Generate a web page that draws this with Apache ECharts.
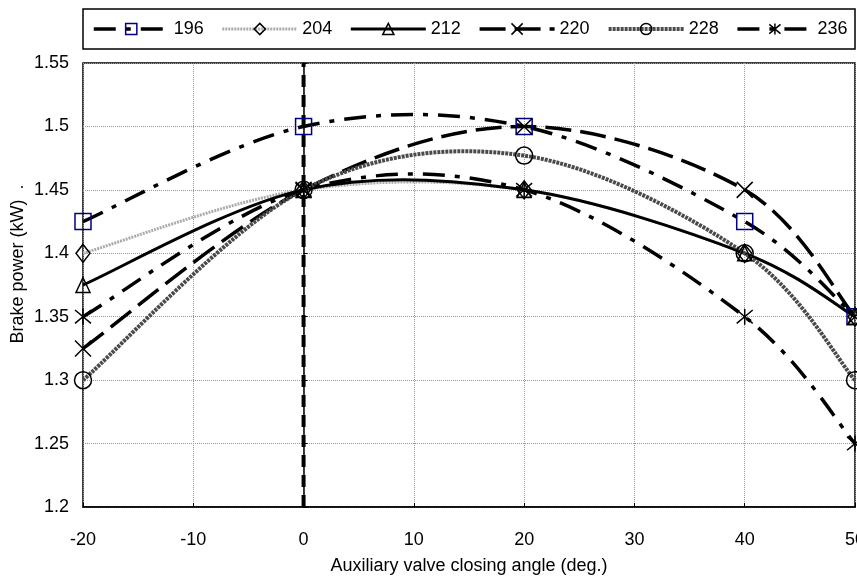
<!DOCTYPE html>
<html>
<head>
<meta charset="utf-8">
<script src="https://cdn.jsdelivr.net/npm/echarts@6/dist/echarts.min.js"></script>
<style>
html,body{margin:0;padding:0;background:#fff;}
#c{width:857px;height:577px;}
</style>
</head>
<body>
<div id="c"></div>
<script>
const angles = [-20, 0, 20, 40, 50];
const seriesNames = ['196', '204', '212', '220', '228', '236'];
const s196 = [1.425, 1.5, 1.5, 1.425, 1.35];
const s204 = [1.4, 1.45, 1.45, 1.4, 1.35];
const s212 = [1.375, 1.45, 1.45, 1.4, 1.35];
const s220 = [1.325, 1.45, 1.5, 1.45, 1.35];
const s228 = [1.3, 1.45, 1.477, 1.4, 1.3];
const s236 = [1.35, 1.45, 1.45, 1.35, 1.25];
const refLineX = [0, 0];
const refLineY = [1.2, 1.55];
const xTicks = [-20, -10, 0, 10, 20, 30, 40, 50];
const yTicks = [1.2, 1.25, 1.3, 1.35, 1.4, 1.45, 1.5, 1.55];

const FONT = '"Liberation Sans", Arial, sans-serif';
const pair = (ys) => angles.map((x, i) => [x, ys[i]]);

const X_PATH = 'path://M0,0L10,10M10,0L0,10';
const AST_PATH = 'path://M0,0L10,10M10,0L0,10M5,-1L5,11';

const defs = [
  { name: seriesNames[0], ys: s196, line: { color: '#000', width: 3.5, type: [22, 10, 5, 10] }, symbol: 'rect', size: 16, border: '#000080' },
  { name: seriesNames[1], ys: s204, line: { color: '#ababab', width: 3, type: [2, 1] }, symbol: 'diamond', size: [14, 18] },
  { name: seriesNames[2], ys: s212, line: { color: '#000', width: 3, type: 'solid' }, symbol: 'triangle', size: [14, 15] },
  { name: seriesNames[3], ys: s220, line: { color: '#000', width: 3.5, type: [26, 9] }, symbol: X_PATH, size: 16 },
  { name: seriesNames[4], ys: s228, line: { color: '#4a4a4a', width: 4, type: [3, 1] }, symbol: 'circle', size: 17 },
  { name: seriesNames[5], ys: s236, line: { color: '#000', width: 3.5, type: [22, 10, 5, 10] }, symbol: AST_PATH, size: 16 }
];

// Excel-like smoothed curve through the data points (Catmull-Rom to Bezier), via the axis scales
function curveSeries(d) {
  return {
    type: 'custom',
    coordinateSystem: 'cartesian2d',
    data: [[angles[0], d.ys[0]]],
    silent: true,
    z: 2,
    renderItem: function (params, api) {
      const p = angles.map((x, i) => api.coord([x, d.ys[i]]));
      const n = p.length;
      let path = 'M' + p[0][0] + ',' + p[0][1];
      for (let i = 0; i < n - 1; i++) {
        const p0 = p[Math.max(i - 1, 0)], p1 = p[i], p2 = p[i + 1], p3 = p[Math.min(i + 2, n - 1)];
        const c1x = p1[0] + (p2[0] - p0[0]) / 6, c1y = p1[1] + (p2[1] - p0[1]) / 6;
        const c2x = p2[0] - (p3[0] - p1[0]) / 6, c2y = p2[1] - (p3[1] - p1[1]) / 6;
        path += 'C' + c1x + ',' + c1y + ',' + c2x + ',' + c2y + ',' + p2[0] + ',' + p2[1];
      }
      return {
        type: 'path',
        shape: { pathData: path },
        style: { fill: 'none', stroke: d.line.color, lineWidth: d.line.width,
          lineDash: Array.isArray(d.line.type) ? d.line.type : null }
      };
    }
  };
}

function markerSeries(d) {
  return {
    name: d.name,
    type: 'line',
    data: pair(d.ys),
    symbol: d.symbol,
    symbolSize: d.size,
    showSymbol: true,
    lineStyle: { width: 0, opacity: 0 },
    itemStyle: { color: 'rgba(0,0,0,0)', borderColor: d.border || '#000', borderWidth: 1.5 },
    emphasis: { disabled: true },
    z: 3
  };
}

const series = [];
defs.forEach(d => series.push(curveSeries(d)));
defs.forEach(d => series.push(markerSeries(d)));
series.push({
  name: 'ref', type: 'line',
  data: refLineX.map((x, i) => [x, refLineY[i]]),
  symbol: 'none', silent: true,
  lineStyle: { color: '#000', width: 4, type: [12, 8] },
  z: 2
});

const chart = echarts.init(document.getElementById('c'), null, { renderer: 'canvas' });
chart.setOption({
  animation: false,
  backgroundColor: '#fff',
  textStyle: { fontFamily: FONT, color: '#000' },
  grid: { left: 83, right: 2, top: 63, bottom: 70, show: true, borderColor: '#000', borderWidth: 1.5,
    outerBoundsMode: 'none', containLabel: false },
  legend: {
    data: defs.map(d => ({
      name: d.name,
      lineStyle: { color: d.line.color, width: d.line.width, type: d.line.type, opacity: 1 },
      itemStyle: { color: 'rgba(0,0,0,0)', borderColor: d.border || '#000', borderWidth: 1.5 }
    })),
    left: 92, top: 20, padding: 0, width: 765,
    itemWidth: 75, itemHeight: 14, itemGap: 17,
    textStyle: { fontFamily: FONT, fontSize: 18, color: '#000' }
  },
  graphic: [
    { type: 'rect', shape: { x: 83, y: 9, width: 772, height: 40 }, style: { fill: 'none', stroke: '#000', lineWidth: 1.5 }, z: 0 },
    { type: 'text', x: 18, y: 264, rotation: Math.PI / 2,
      style: { text: 'Brake power (kW)  .', font: '18px ' + FONT, fill: '#000', textAlign: 'center', textVerticalAlign: 'middle' } }
  ],
  xAxis: {
    type: 'value', min: xTicks[0], max: xTicks[xTicks.length - 1], interval: 10,
    name: 'Auxiliary valve closing angle (deg.)', nameLocation: 'middle', nameGap: 50,
    nameTextStyle: { fontFamily: FONT, fontSize: 18, color: '#000' },
    axisLine: { onZero: false, lineStyle: { color: '#000', width: 1.5 } },
    axisTick: { inside: true, length: 4, lineStyle: { color: '#000' } },
    axisLabel: { fontFamily: FONT, fontSize: 18, color: '#000', margin: 24 },
    splitLine: { show: true, lineStyle: { color: '#999', type: 'dotted', width: 1 } }
  },
  yAxis: {
    type: 'value', min: yTicks[0], max: yTicks[yTicks.length - 1], interval: 0.05,
    axisLine: { show: true, lineStyle: { color: '#000', width: 1.5 } },
    axisTick: { show: true, inside: true, length: 4, lineStyle: { color: '#000' } },
    axisLabel: { fontFamily: FONT, fontSize: 18, color: '#000', margin: 14,
      formatter: v => String(+v.toFixed(2)) },
    splitLine: { show: true, lineStyle: { color: '#999', type: 'dotted', width: 1 } }
  },
  series: series
});
</script>
</body>
</html>
